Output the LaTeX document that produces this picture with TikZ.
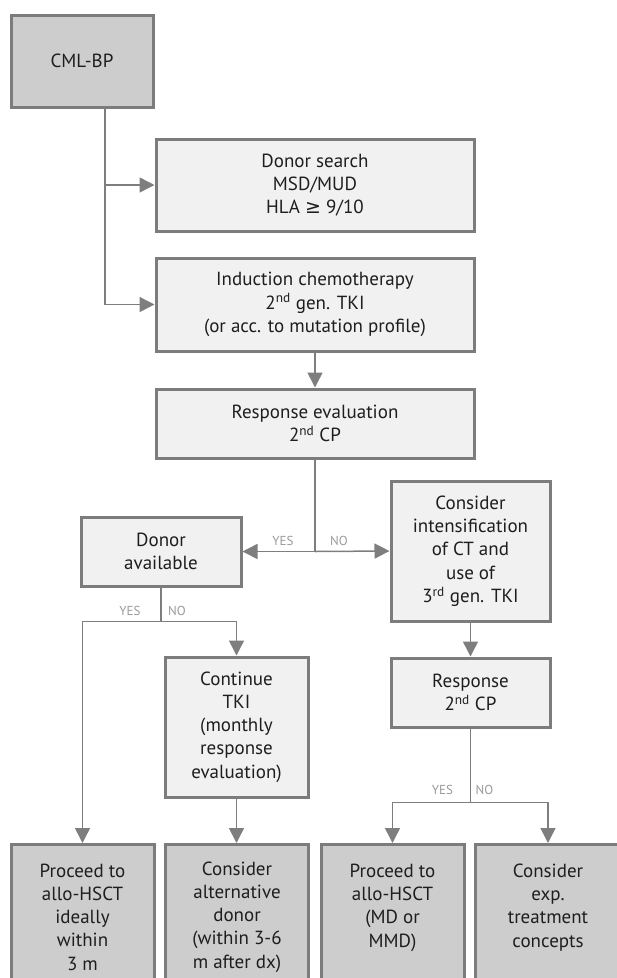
\documentclass[tikz,border=0pt]{standalone}
\usepackage{fontspec}
\setmainfont{PT Sans}
\newfontfamily\geqfont{DejaVu Sans}
\usetikzlibrary{arrows.meta}
\definecolor{boxgray}{HTML}{7C7C7C}
\definecolor{linegray}{HTML}{7E7E7E}
\definecolor{lightfill}{HTML}{F1F1F1}
\definecolor{darkfill}{HTML}{CDCDCD}
\definecolor{labelgray}{HTML}{9A9A9A}
\definecolor{txt}{HTML}{1E1E1E}
\tikzset{
  box/.style={draw=boxgray, line width=3pt, fill=lightfill, align=center,
    text=txt, font=\fontsize{19}{23.3}\selectfont, inner sep=0pt},
  darkbox/.style={box, fill=darkfill},
  yesno/.style={text=labelgray, font=\fontsize{13}{13}\selectfont, inner sep=1pt},
  conn/.style={draw=linegray, line width=1.5pt},
  arr/.style={conn, -{Triangle[length=15pt,width=15pt]}}
}

\begin{document}
\begin{tikzpicture}[x=1pt,y=-1pt]
\useasboundingbox (0,0) rectangle (617,978);
\clip (0,0) rectangle (617,978);
% boxes
\node[darkbox, minimum width=142, minimum height=92] (cml) at (82,61) {CML-BP};
\node[box, minimum width=318, minimum height=92] (search) at (315,185)
  {Donor search\\MSD/MUD\\HLA {\geqfont ≥} 9/10};
\node[box, minimum width=318, minimum height=93] (induct) at (315,304.5)
  {Induction chemotherapy\\2\textsuperscript{nd} gen. TKI\\(or acc. to mutation profile)};
\node[box, minimum width=318, minimum height=69] (resp) at (315,423.5)
  {Response evaluation\\2\textsuperscript{nd} CP};
\node[box, minimum width=160, minimum height=69] (donor) at (161,551.5)
  {Donor\\available};
\node[box, minimum width=159, minimum height=140] (intens) at (470.5,551)
  {Consider\\intensification\\of CT and\\use of\\3\textsuperscript{rd} gen. TKI};
\node[box, minimum width=143, minimum height=140] (cont) at (236.5,727)
  {Continue\\TKI\\(monthly\\response\\evaluation)};
\node[box, minimum width=159, minimum height=69] (resp2) at (470.5,692.5)
  {Response\\2\textsuperscript{nd} CP};
% bottom row
\node[darkbox, minimum width=143, minimum height=145, anchor=north] (hsct1) at (82.5,843)
  {Proceed to\\allo-HSCT\\ideally\\within\\3 m};
\node[darkbox, minimum width=143, minimum height=145, anchor=north] (altdonor) at (237,843)
  {Consider\\alternative\\donor\\(within 3-6\\m after dx)};
\node[darkbox, minimum width=143, minimum height=145, anchor=north] (hsct2) at (392.5,843)
  {Proceed to\\allo-HSCT\\(MD or\\MMD)\\\mbox{}};
\node[darkbox, minimum width=146, minimum height=145, anchor=north] (expt) at (548,843)
  {Consider\\exp.\\treatment\\concepts\\\mbox{}};
% connectors
\coordinate (trunk) at (105,0);
\draw[arr] (cml.south -| trunk) |- (search.west);
\draw[arr] (cml.south -| trunk) |- (induct.west);
\draw[arr] (induct) -- (resp);
\coordinate (split1) at (resp.south |- donor.east);
\draw[conn] (resp.south) -- (split1);
\draw[arr] (split1) -- (donor.east);
\draw[arr] (split1) -- (intens.west);
\node[yesno] (yes1) at ([shift={(-32,-11)}]split1) {YES};
\node[yesno] (no1) at ([shift={(24,-11)}]split1) {NO};
\coordinate (split2) at ([yshift=-34]donor.south);
\draw[conn] (donor.south) -- (split2);
\draw[arr] (split2) -| (hsct1.north);
\draw[arr] (split2) -| (cont.north);
\node[yesno] (yes2) at ([shift={(-31,-11)}]split2) {YES};
\node[yesno] (no2) at ([shift={(16,-11)}]split2) {NO};
\draw[arr] (intens) -- (resp2);
\draw[arr] (cont.south) -- (cont.south |- altdonor.north);
\coordinate (split3) at ([yshift=-74]resp2.south);
\draw[conn] (resp2.south) -- (split3);
\draw[arr] (split3) -| (hsct2.north);
\draw[arr] (split3) -| (expt.north);
\node[yesno] (yes3) at ([shift={(-28,-13)}]split3) {YES};
\node[yesno] (no3) at ([shift={(14,-13)}]split3) {NO};
\end{tikzpicture}
\end{document}
